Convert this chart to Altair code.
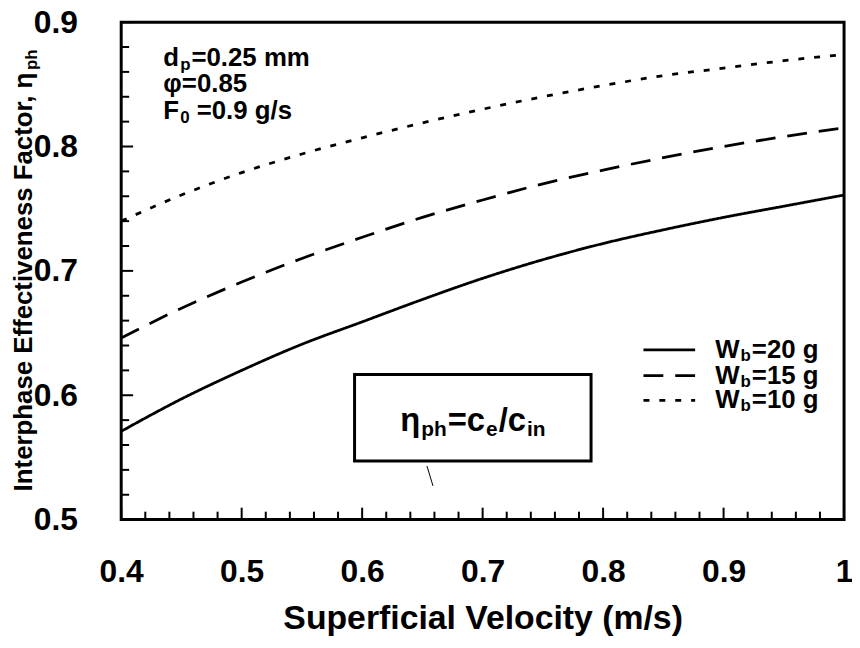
import altair as alt
import pandas as pd

# ---------------- data ----------------
velocity = [0.40, 0.45, 0.50, 0.55, 0.60, 0.65, 0.70, 0.75, 0.80, 0.85, 0.90, 0.95, 1.00]
eta_wb20 = [0.571, 0.597, 0.620, 0.641, 0.659, 0.677, 0.694, 0.709, 0.722, 0.733, 0.743, 0.752, 0.761]
eta_wb15 = [0.646, 0.670, 0.691, 0.710, 0.727, 0.743, 0.757, 0.770, 0.781, 0.791, 0.800, 0.808, 0.815]
eta_wb10 = [0.740, 0.761, 0.779, 0.794, 0.807, 0.819, 0.830, 0.840, 0.849, 0.857, 0.863, 0.869, 0.874]
series_keys = ["20", "15", "10"]

x_major = [0.4, 0.5, 0.6, 0.7, 0.8, 0.9, 1.0]
y_major = [0.5, 0.6, 0.7, 0.8, 0.9]
x_minor = [round(0.4 + 0.02 * i, 2) for i in range(31)]
y_minor = [round(0.5 + 0.02 * i, 2) for i in range(21)]
x_minor = [v for v in x_minor if all(abs(v - m) > 1e-6 for m in x_major)]
y_minor = [v for v in y_minor if all(abs(v - m) > 1e-6 for m in y_major)]

# annotation anchors (data coordinates)
note_x = 0.435
note_rows = [0.8650, 0.8440, 0.8225]
legend_x1, legend_x2, legend_tx = 0.8335, 0.8764, 0.8930
legend_rows = [0.6365, 0.6158, 0.5958]
box_x, box_x2, box_y, box_y2 = 0.5937, 0.7900, 0.6166, 0.5471
box_tx, box_ty = 0.6316, 0.5711
callout = {"x": [0.6538], "x2": [0.6588], "y": [0.5431], "y2": [0.5271]}

# ---------------- layout ----------------
W, H = 728, 501
FONT = "Liberation Sans"
xs = alt.Scale(domain=[0.4, 1.0], nice=False, zero=False)
ys = alt.Scale(domain=[0.5, 0.9], nice=False, zero=False)

# Arial/Liberation Sans Bold advance widths (per 1000 em)
AW = {"0": 556, "1": 556, "2": 556, "5": 556, "9": 556, "8": 556, ".": 278, "=": 584, " ": 278,
      "m": 889, "g": 611, "/": 278, "s": 556, "d": 611, "p": 611, "h": 611, "F": 611, "W": 944,
      "b": 611, "c": 556, "e": 556, "i": 278, "n": 611, "η": 611, "I": 278, "t": 333, "r": 389,
      "a": 556, "E": 667, "f": 333, "v": 556, "o": 611, ",": 278, "φ": 722}


def tw(s, size):
    return sum(AW.get(ch, 556) for ch in s) * size / 1000.0


def X(field="x:Q"):
    return alt.X(field, scale=xs)


def Y(field="y:Q"):
    return alt.Y(field, scale=ys)


def rich(parts, x, y, size, sub_size, sub_dy, baseline="alphabetic", pixel=False, angle=0):
    """parts: (text, is_subscript, extra_gap_px)"""
    out = []
    dx = 0.0
    for txt, sub, gap in parts:
        fs = sub_size if sub else size
        dx += gap
        kw = dict(font=FONT, fontWeight="bold", fontSize=fs, align="left", baseline=baseline,
                  color="black", dx=dx, dy=(sub_dy if sub else 0))
        if angle:
            kw["angle"] = angle
        c = alt.Chart(pd.DataFrame({"x": [x], "y": [y], "t": [txt]})).mark_text(**kw)
        if pixel:
            c = c.encode(x=alt.value(x), y=alt.value(y), text="t:N")
        else:
            c = c.encode(x=X(), y=Y(), text="t:N")
        out.append(c)
        dx += tw(txt, fs)
    return out


# ---------------- curves ----------------
rows = []
for key, vals in zip(series_keys, [eta_wb20, eta_wb15, eta_wb10]):
    for v, e in zip(velocity, vals):
        rows.append({"x": v, "y": e, "s": key})
df = pd.DataFrame(rows)

x_axis = alt.Axis(values=x_major, labelExpr="datum.value > 0.999 ? '1' : format(datum.value, '.1f')",
                  labelFont=FONT, labelFontSize=32, labelFontWeight="bold", labelColor="black",
                  labelFlush=False, labelOverlap=False, ticks=False, tickSize=0, domain=False, grid=False,
                  labelPadding=37, title="Superficial Velocity (m/s)", titleFont=FONT, titleFontSize=34,
                  titleFontWeight="bold", titleColor="black", titlePadding=15)
y_axis = alt.Axis(values=y_major, format=".1f", labelFont=FONT, labelFontSize=32, labelFontWeight="bold",
                  labelColor="black", labelFlush=False, labelOverlap=False, ticks=False, tickSize=0,
                  domain=False, grid=False, labelPadding=44, title=None)

curves = alt.Chart(df).mark_line(color="black", strokeWidth=2.8, interpolate="monotone").encode(
    x=alt.X("x:Q", scale=xs, axis=x_axis, title="Superficial Velocity (m/s)"),
    y=alt.Y("y:Q", scale=ys, axis=y_axis, title=None),
    strokeDash=alt.StrokeDash("s:N", scale=alt.Scale(domain=series_keys, range=[[1, 0], [20, 12], [6, 10]]),
                              legend=None),
    detail="s:N",
)

# ---------------- inward ticks ----------------
def xticks(vals, length):
    return alt.Chart(pd.DataFrame({"x": vals})).mark_rule(color="black", strokeWidth=2).encode(
        x=X(), y=alt.value(H), y2=alt.value(H - length))


def yticks(vals, length):
    return alt.Chart(pd.DataFrame({"y": vals})).mark_rule(color="black", strokeWidth=2).encode(
        y=Y(), x=alt.value(0), x2=alt.value(length))


ticks = [xticks(x_major, 12), xticks(x_minor, 8), yticks(y_major, 12), yticks(y_minor, 8)]

# ---------------- box with formula ----------------
box = alt.Chart(pd.DataFrame({"x": [box_x], "x2": [box_x2], "y": [box_y], "y2": [box_y2]})).mark_rect(
    fill="white", stroke="black", strokeWidth=3).encode(x=X(), x2="x2:Q", y=Y(), y2="y2:Q")
box_text = rich([("η", False, 0), ("ph", True, 1), ("=c", False, 1), ("e", True, 1), ("/c", False, 1),
                 ("in", True, 1)], box_tx, box_ty, 33, 21, 5)
callout_line = alt.Chart(pd.DataFrame(callout)).mark_rule(color="black", strokeWidth=1).encode(
    x=X(), x2="x2:Q", y=Y(), y2="y2:Q")

# ---------------- parameter notes ----------------
notes = []
notes += rich([("d", False, 0), ("p", True, 1), ("=0.25 mm", False, 1)], note_x, note_rows[0], 26, 17, 4)
notes += rich([("φ=0.85", False, 0)], note_x, note_rows[1], 26, 17, 4)
notes += rich([("F", False, 0), ("0", True, 1), ("=0.9 g/s", False, tw(" ", 26))], note_x, note_rows[2],
              26, 17, 4)

# ---------------- manual legend ----------------
legend = []
dashes = [[1, 0], [20, 12], [6, 10]]
for key, yy, dash in zip(series_keys, legend_rows, dashes):
    legend.append(alt.Chart(pd.DataFrame({"x": [legend_x1], "x2": [legend_x2], "y": [yy]})).mark_rule(
        color="black", strokeWidth=2.8, strokeDash=dash).encode(x=X(), x2="x2:Q", y=Y()))
    legend += rich([("W", False, 0), ("b", True, 1), ("=" + key + " g", False, 1)], legend_tx, yy, 26, 17, 6,
                   baseline="middle")

# ---------------- y-axis title (with subscript) ----------------
ytitle_main = "Interphase Effectiveness Factor, η"
L = tw(ytitle_main, 26) + tw("ph", 17)
ytitle = rich([(ytitle_main, False, 0), ("ph", True, 1)], -90, H / 2 + L / 2, 26, 17, 5, pixel=True,
              angle=270)

chart = alt.layer(curves, *ticks, box, callout_line, *box_text, *notes, *legend, *ytitle).properties(
    width=W, height=H,
    background="white",
    autosize=alt.AutoSizeParams(type="none"),
    padding={"left": 114, "top": 12, "right": 8, "bottom": 120},
).configure_view(stroke="black", strokeWidth=3)

chart.save("out.html", embed_options={"renderer": "svg", "actions": False})
